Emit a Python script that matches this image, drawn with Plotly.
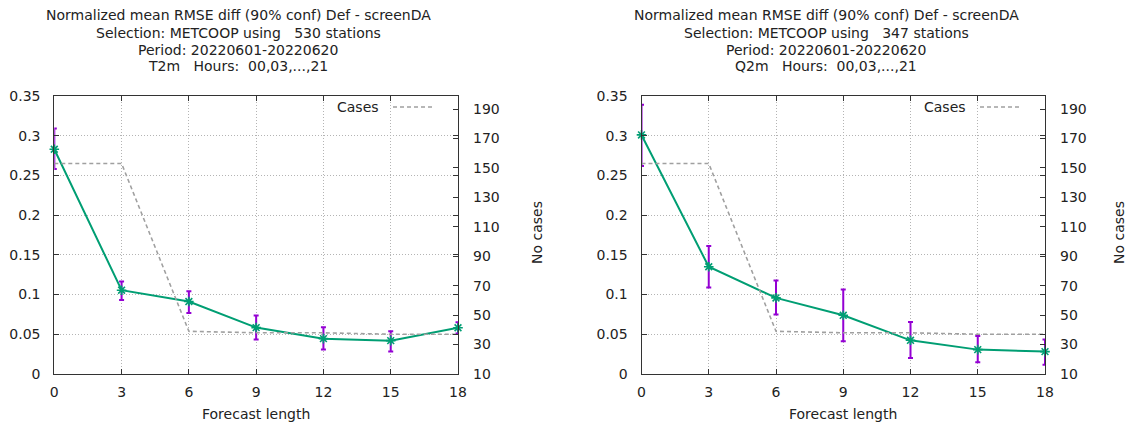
import plotly.graph_objects as go

# The page body has an 8px margin, so the figure is made 16px smaller
# and all pixel positions below are measured in window coordinates.
WIN_W, WIN_H = 1136, 430
OFF = 8
W, H = WIN_W - 2 * OFF, WIN_H - 2 * OFF

lead = [0, 3, 6, 9, 12, 15, 18]
x_ticks = [0, 3, 6, 9, 12, 15, 18]
y_ticks = [0, 0.05, 0.1, 0.15, 0.2, 0.25, 0.3, 0.35]
y_tick_text = ["0", "0.05", "0.1", "0.15", "0.2", "0.25", "0.3", "0.35"]
y2_ticks = [10, 30, 50, 70, 90, 110, 130, 150, 170, 190]

t2m_mean = [0.283, 0.1055, 0.0912, 0.0584, 0.0445, 0.042, 0.0582]
t2m_lo = [0.258, 0.0933, 0.0769, 0.0433, 0.0307, 0.0282, 0.0510]
t2m_hi = [0.309, 0.1164, 0.1042, 0.0735, 0.0588, 0.0538, 0.0650]
t2m_cases = [153, 153, 39, 38, 38, 37, 37]

q2m_mean = [0.301, 0.135, 0.0958, 0.0739, 0.0424, 0.0307, 0.0282]
q2m_lo = [0.262, 0.109, 0.0748, 0.0412, 0.0200, 0.0147, 0.0118]
q2m_hi = [0.339, 0.161, 0.1176, 0.1063, 0.0655, 0.0479, 0.0433]
q2m_cases = [153, 153, 39, 38, 38, 37, 37]

titles = [
    ["Normalized mean RMSE diff (90% conf) Def - screenDA",
     "Selection: METCOOP using \u00a0\u00a0530 stations",
     "Period: 20220601-20220620",
     "T2m \u00a0\u00a0Hours: \u00a000,03,...,21"],
    ["Normalized mean RMSE diff (90% conf) Def - screenDA",
     "Selection: METCOOP using \u00a0\u00a0347 stations",
     "Period: 20220601-20220620",
     "Q2m \u00a0\u00a0Hours: \u00a000,03,...,21"],
]

FONT = "DejaVu Sans"
TXT = "#222222"
TEAL = "#009e73"
VIOLET = "#9400d3"
GRAY = "#a0a0a0"
GRID = "#b4b4b4"
BORDER = "#333333"


def px(xw):
    return (xw - OFF) / W


def py(yw):
    return 1 - (yw - OFF) / H


# window-pixel layout
px_left = [(54.3, 458.0), (641.5, 1045.0)]
py_top, py_bot = 96.0, 374.0
title_cx = [238, 826]
title_y = [15.5, 32.5, 49.5, 66.5]
ncases_x = [537, 1119]

fig = go.Figure()

panels = [(t2m_mean, t2m_lo, t2m_hi, t2m_cases), (q2m_mean, q2m_lo, q2m_hi, q2m_cases)]

annotations = []
shapes = []
for i, (mean, lo, hi, cases) in enumerate(panels):
    xa = "x" if i == 0 else "x2"
    ya = "y" if i == 0 else "y3"
    ya2 = "y2" if i == 0 else "y4"
    fig.add_trace(go.Scatter(
        x=lead, y=cases, xaxis=xa, yaxis=ya2, mode="lines",
        line=dict(color=GRAY, width=1.6, dash="4px,3px"),
        showlegend=False, hoverinfo="skip", cliponaxis=False))
    fig.add_trace(go.Scatter(
        x=lead, y=mean, xaxis=xa, yaxis=ya, mode="lines+markers",
        line=dict(color=TEAL, width=2),
        marker=dict(symbol="asterisk-open", size=8, color=TEAL,
                    line=dict(color=TEAL, width=1.6)),
        error_y=dict(type="data", symmetric=False,
                     array=[h - m for h, m in zip(hi, mean)],
                     arrayminus=[m - l for m, l in zip(mean, lo)],
                     color=VIOLET, thickness=2, width=2.5),
        showlegend=False, cliponaxis=False))

    x0, x1 = px_left[i]
    for k, line in enumerate(titles[i]):
        annotations.append(dict(
            text=line, xref="paper", yref="paper",
            x=px(title_cx[i]), y=py(title_y[k]),
            xanchor="center", yanchor="middle", showarrow=False,
            font=dict(family=FONT, size=14, color=TXT)))
    annotations.append(dict(
        text="Forecast length", xref="paper", yref="paper",
        x=px((x0 + x1) / 2), y=py(413.5), xanchor="center", yanchor="middle",
        showarrow=False, font=dict(family=FONT, size=14, color=TXT)))
    annotations.append(dict(
        text="No cases", xref="paper", yref="paper", textangle=-90,
        x=px(ncases_x[i]), y=py(233), xanchor="center", yanchor="middle",
        showarrow=False, font=dict(family=FONT, size=14, color=TXT)))
    # legend entry
    annotations.append(dict(
        text="Cases", xref="paper", yref="paper",
        x=px(x1 - 77), y=py(107), xanchor="right", yanchor="middle",
        showarrow=False, font=dict(family=FONT, size=14, color=TXT)))
    shapes.append(dict(
        type="line", xref="paper", yref="paper",
        x0=px(x1 - 65), x1=px(x1 - 25), y0=py(107), y1=py(107),
        line=dict(color=GRAY, width=1.6, dash="4px,3px")))

dom_y = [py(py_bot), py(py_top)]


def xaxis(i):
    x0, x1 = px_left[i]
    return dict(domain=[px(x0), px(x1)], range=[0, 18], tickvals=x_ticks,
                anchor="y" if i == 0 else "y3", automargin=False,
                showline=True, linecolor=BORDER, linewidth=1, mirror="ticks",
                ticks="inside", ticklen=5, tickcolor=BORDER,
                showgrid=True, gridcolor=GRID, griddash="1px,2px", gridwidth=1,
                zeroline=False, ticklabelstandoff=5,
                tickfont=dict(family=FONT, size=14, color=TXT))


def yaxis(i):
    return dict(domain=dom_y, range=[0, 0.35], tickvals=y_ticks, ticktext=y_tick_text,
                anchor="x" if i == 0 else "x2", automargin=False,
                showline=True, linecolor=BORDER, linewidth=1, mirror="ticks",
                ticks="inside", ticklen=5, tickcolor=BORDER,
                showgrid=True, gridcolor=GRID, griddash="1px,2px", gridwidth=1,
                zeroline=False, ticklabelstandoff=10,
                tickfont=dict(family=FONT, size=14, color=TXT))


def y2axis(i):
    return dict(range=[10, 198.9], tickvals=y2_ticks,
                anchor="x" if i == 0 else "x2", automargin=False,
                overlaying="y" if i == 0 else "y3", side="right",
                showline=False, ticks="inside", ticklen=5, tickcolor=BORDER,
                showgrid=False, zeroline=False, ticklabelstandoff=14,
                tickfont=dict(family=FONT, size=14, color=TXT))


fig.update_layout(
    width=W, height=H,
    margin=dict(l=0, r=0, t=0, b=0, autoexpand=False),
    paper_bgcolor="white", plot_bgcolor="white",
    xaxis=xaxis(0), yaxis=yaxis(0), yaxis2=y2axis(0),
    xaxis2=xaxis(1), yaxis3=yaxis(1), yaxis4=y2axis(1),
    annotations=annotations, shapes=shapes,
    showlegend=False,
    font=dict(family=FONT, size=14, color=TXT),
)

fig.write_html("out.html")
